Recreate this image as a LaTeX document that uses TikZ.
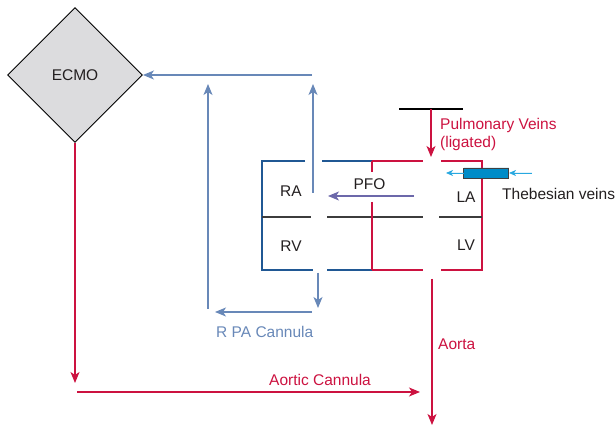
\documentclass[tikz,border=0pt]{standalone}
\usepackage{fontspec}
\setmainfont{Liberation Sans}
\usetikzlibrary{shapes.geometric,arrows.meta}
\definecolor{cred}{RGB}{204,18,64}
\definecolor{csteel}{RGB}{104,136,184}
\definecolor{cbox}{RGB}{32,88,148}
\definecolor{cpfo}{RGB}{108,104,170}
\definecolor{cgray}{RGB}{60,60,60}
\definecolor{ccyan}{RGB}{40,168,224}
\definecolor{ccyl}{RGB}{0,140,200}
\definecolor{ctext}{RGB}{35,31,32}
\definecolor{cdia}{RGB}{220,220,222}
\begin{document}
\begin{tikzpicture}[x=1pt,y=-1pt,
  every node/.style={font=\fontsize{15.5}{18}\selectfont,text=ctext,inner sep=0pt},
  lbl/.style={anchor=base west},
  tip/.style={-{Stealth[length=11pt,width=9pt,inset=3pt]}},
  smalltip/.style={-{Stealth[length=7pt,width=6pt,inset=2pt]}},
  steelarrow/.style={tip,draw=csteel,fill=csteel,line width=1.3pt},
  redarrow/.style={tip,draw=cred,fill=cred,line width=1.3pt},
  boxblue/.style={draw=cbox,line width=1.2pt},
  boxred/.style={draw=cred,line width=1.2pt},
  boxgray/.style={draw=cgray,line width=1.2pt}]
\useasboundingbox (0,0) rectangle (616,427);

% ECMO
\node[diamond,draw=black,fill=cdia,line width=0.9pt,minimum width=135pt,minimum height=135pt,aspect=1] (ecmo) at (75,75) {ECMO};

% heart boxes
\draw[boxblue] (305,161) -- (262,161) -- (262,270) -- (313,270);
\draw[boxblue] (322,161) -- (372,161);
\draw[boxblue] (327,270) -- (372,270);
\draw[boxred] (372,161) -- (423,161);
\draw[boxred] (441,161) -- (482,161) -- (482,270) -- (441,270);
\draw[boxred] (372,270) -- (423,270);
\draw[boxgray] (262,217) -- (311,217);
\draw[boxgray] (327,217) -- (423,217);
\draw[boxgray] (439,217) -- (482,217);
\draw[boxred] (372,161) -- (372,172);
\draw[boxred] (372,202) -- (372,270);

\node (ra) at (291,191) {RA};
\node (rv) at (291,246) {RV};
\node (la) at (466,197.5) {LA};
\node (lv) at (466,245) {LV};
\node (pfo) at (369.5,184) {PFO};

% coordinates
\coordinate (top1) at (312,75);
\coordinate (upl0) at (208,309);
\coordinate (upl1) at (208,84);
\coordinate (upr0) at (313,193);
\coordinate (upr1) at (313,84);
\coordinate (dn0) at (318,273);
\coordinate (dn1) at (318,308);
\coordinate (rp0) at (312,312);
\coordinate (rp1) at (215,312);
\coordinate (pf0) at (414,196);
\coordinate (pf1) at (328,196);
\coordinate (pvl) at (399,109);
\coordinate (pvr) at (463,109);
\coordinate (pvm) at (431,109);
\coordinate (pv1) at (431,157);
\coordinate (th0) at (532,173);
\coordinate (th1) at (509,173);
\coordinate (th2) at (464,173);
\coordinate (th3) at (446,173);
\coordinate (ec1) at (75,383);
\coordinate (ac0) at (77,392);
\coordinate (ac1) at (420,392);
\coordinate (ao0) at (432,279);
\coordinate (ao1) at (432,425);

% venous (blue) arrows
\draw[steelarrow] (top1) -- (ecmo.east);
\draw[steelarrow] (upl0) -- (upl1);
\draw[steelarrow] (upr0) -- (upr1);
\draw[steelarrow] (dn0) -- (dn1);
\draw[steelarrow] (rp0) -- (rp1);
\node[lbl,text=csteel] (rpa) at (216,338) {R PA Cannula};

% PFO
\draw[tip,draw=cpfo,fill=cpfo,line width=1.3pt] (pf0) -- (pf1);

% pulmonary veins
\draw[draw=black,line width=1.2pt] (pvl) -- (pvr);
\draw[redarrow] (pvm) -- (pv1);
\node[lbl,text=cred] (pv) at (440,130) {Pulmonary Veins};
\node[lbl,text=cred] (lig) at (440,148) {(ligated)};

% Thebesian veins
\draw[smalltip,draw=ccyan,fill=ccyan,line width=0.8pt] (th0) -- (th1);
\node[cylinder,shape border rotate=180,draw=black!75,line width=0.7pt,cylinder uses custom fill,cylinder body fill=ccyl,cylinder end fill=ccyl!70!white,minimum width=10pt,minimum height=45pt,aspect=1.2,inner sep=0pt] (cyl) at (486.5,173) {};
\draw[smalltip,draw=ccyan,fill=ccyan,line width=0.8pt] (th2) -- (th3);
\node[lbl] (theb) at (502,200) {Thebesian veins};

% arterial (red)
\draw[redarrow] (ecmo.south) -- (ec1);
\draw[redarrow] (ac0) -- (ac1);
\draw[redarrow] (ao0) -- (ao1);
\node[lbl,text=cred] (acl) at (269,386) {Aortic Cannula};
\node[lbl,text=cred] (aol) at (438,350) {Aorta};
\end{tikzpicture}
\end{document}
